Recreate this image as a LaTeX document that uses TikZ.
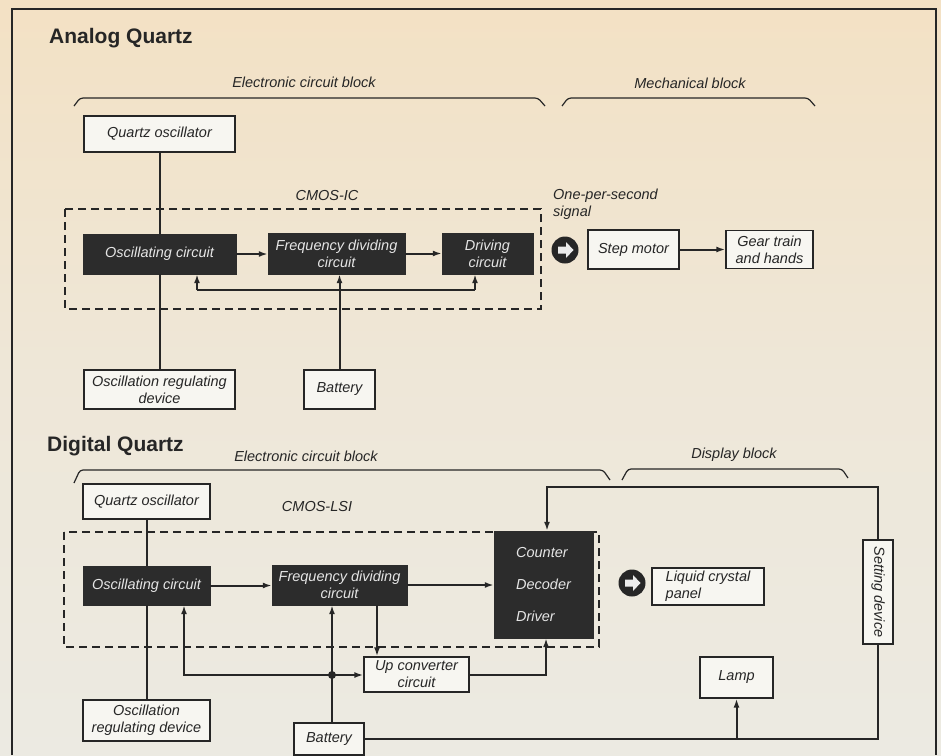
\documentclass[tikz,border=0pt]{standalone}
\usepackage{fontspec}
\setmainfont{Liberation Sans}
\usetikzlibrary{arrows.meta}

\definecolor{paper}{RGB}{238,231,216}
\definecolor{papertop}{RGB}{243,225,196}
\definecolor{paperlow}{RGB}{236,234,226}
\definecolor{ink}{RGB}{38,38,38}
\definecolor{chip}{RGB}{44,44,44}
\definecolor{boxfill}{RGB}{247,246,241}

\tikzset{
  lbl/.style={font=\fontsize{14.5}{17}\selectfont\itshape, text=ink, inner sep=0pt},
  title/.style={font=\fontsize{21}{24}\selectfont\bfseries, text=ink, inner sep=0pt, anchor=west},
  lightbox/.style={draw=ink, line width=1.3pt, fill=boxfill, text=ink, align=center,
    inner sep=1pt, font=\fontsize{14.5}{17}\selectfont\itshape},
  darkbox/.style={draw=chip, fill=chip, text=white!90!black, align=center,
    inner sep=1pt, font=\fontsize{14.5}{17}\selectfont\itshape},
  wire/.style={draw=ink, line width=2pt},
  arr/.style={wire, -{Latex[length=9pt,width=6pt]}},
  chipline/.style={draw=ink, line width=1.3pt, dash pattern=on 8pt off 5pt},
  brace/.style={draw=ink, line width=1.2pt, rounded corners=3pt},
  sigarrow/.pic={
    \fill[ink] (0,0) circle (13.5);
    \fill[white!92!black] (-7,-3.5) -- (1,-3.5) -- (1,-8) -- (8.5,0) -- (1,8) -- (1,3.5) -- (-7,3.5) -- cycle;
  },
}

\begin{document}
\begin{tikzpicture}[x=1pt, y=-1pt]
  % page and frame
  \shade[top color=papertop, bottom color=paperlow, middle color=paper] (0,0) rectangle (941,755);
  \useasboundingbox (0,0) rectangle (941,755);
  \draw[ink, line width=1.4pt] (12,755) -- (12,9) -- (936,9) -- (936,755);

  %% ---------------- analog quartz ----------------
  \node[title] (atitle) at (49,38) {Analog Quartz};

  % block braces
  \node[lbl] (aelec) at (304,82) {Electronic circuit block};
  \draw[brace] (74,106) -- (80,98) -- (538,98) -- (545,106);
  \node[lbl] (amech) at (690,83) {Mechanical block};
  \draw[brace] (562,106) -- (568,98) -- (808,98) -- (815,106);

  % CMOS-IC outline
  \draw[chipline] (65,209) rectangle (541,309);
  \node[lbl] (acmos) at (327,196) {CMOS-IC};

  \node[lightbox, minimum width=151, minimum height=36] (aqo)  at (159.5,134)   {Quartz oscillator};
  \node[darkbox,  minimum width=153, minimum height=40] (aosc) at (159.5,254)   {Oscillating circuit};
  \node[darkbox,  minimum width=137, minimum height=41] (afdc) at (336.5,253.5) {Frequency dividing\\circuit};
  \node[darkbox,  minimum width=91,  minimum height=41] (adrv) at (487.5,253.5) {Driving\\circuit};
  \node[lightbox, minimum width=151, minimum height=39] (areg) at (159.5,389.5) {Oscillation regulating\\device};
  \node[lightbox, minimum width=71,  minimum height=39] (abat) at (339.5,389.5) {Battery};

  % one-per-second output
  \node[lbl, align=left, anchor=north west] (asigtxt) at (553,189) {One-per-second\\signal};
  \pic at (565,250) {sigarrow};
  \node[lightbox, minimum width=91, minimum height=39] (astep) at (633.5,249.5) {Step motor};
  \node[lightbox, minimum width=87, minimum height=38] (agear) at (769.5,249.5) {Gear train\\and hands};

  % analog connectors
  \draw[wire] (aqo.south) -- (aosc.north);
  \draw[wire] (aosc.south) -- (areg.north);
  \draw[arr] (aosc.east) -- (afdc.west |- aosc.east);
  \draw[arr] (afdc.east) -- (adrv.west);
  \draw[arr] (abat.north) -- (abat.north |- afdc.south);
  \coordinate (abus1) at (197,290);
  \coordinate (abus2) at (475,290);
  \draw[wire] (abus1) -- (abus2);
  \draw[arr] (abus1) -- (abus1 |- aosc.south);
  \draw[arr] (abus2) -- (abus2 |- adrv.south);
  \draw[arr] (astep) -- (agear);

  %% ---------------- digital quartz ----------------
  \node[title] (dtitle) at (47,446) {Digital Quartz};

  \node[lbl] (delec) at (306,456) {Electronic circuit block};
  \draw[brace] (74,483) -- (80,470) -- (603,470) -- (610,480);
  \node[lbl] (ddisp) at (734,455) {Display block};
  \draw[brace] (622,480) -- (628,469) -- (842,469) -- (848,478);

  % CMOS-LSI outline
  \draw[chipline] (64,532) rectangle (599,647);
  \node[lbl] (dcmos) at (317,506) {CMOS-LSI};

  \node[lightbox, minimum width=127, minimum height=35]  (dqo)  at (146.5,501.5) {Quartz oscillator};
  \node[darkbox,  minimum width=127, minimum height=39]  (dosc) at (146.5,585.5) {Oscillating circuit};
  \node[darkbox,  minimum width=135, minimum height=40]  (dfdc) at (339.5,585)   {Frequency dividing\\circuit};
  \node[darkbox,  minimum width=99,  minimum height=107, align=left, font=\fontsize{14.5}{32}\selectfont\itshape]
    (dcdd) at (543.5,584.5) {Counter\\Decoder\\Driver};
  \node[lightbox, minimum width=105, minimum height=35]  (dup)  at (416.5,674.5) {Up converter\\circuit};
  \node[lightbox, minimum width=127, minimum height=41]  (dreg) at (146.5,720.5) {Oscillation\\regulating device};
  \node[lightbox, minimum width=70,  minimum height=32]  (dbat) at (329,739)     {Battery};

  \pic at (632,583) {sigarrow};
  \node[lightbox, minimum width=112, minimum height=37, align=left] (dlcd) at (708,586.5) {Liquid crystal\\panel};
  \node[lightbox, minimum width=73,  minimum height=41] (dlamp) at (736.5,677.5) {Lamp};
  % rotated: west = top end, east = bottom end
  \node[lightbox, rotate=-90, minimum width=104, minimum height=30] (dset) at (878,592) {Setting device};

  % digital connectors
  \draw[wire] (dqo.south) -- (dosc.north);
  \draw[wire] (dosc.south) -- (dreg.north);
  \draw[arr] (dosc.east) -- (dfdc.west |- dosc.east);
  \draw[arr] (dfdc.east) -- (dcdd.west |- dfdc.east);
  \coordinate (djn) at (332,675);
  \coordinate (dfb) at (184,675);
  \draw[arr] (djn |- dbat.north) -- (djn |- dfdc.south);
  \draw[arr] (djn) -- (dfb) -- (dfb |- dosc.south);
  \draw[arr] (djn) -- (dup.west |- djn);
  \fill[ink] (djn) circle (4);
  \draw[arr] (dfdc.south -| 377,0) -- (dup.north -| 377,0);
  \draw[arr] (dup.east) -| (dcdd.south -| 546,0);
  \coordinate (dsetin) at (547,487);
  \draw[arr] (dset.west) |- (dsetin) -- (dsetin |- dcdd.north);
  \coordinate (dbot) at (878,739);
  \draw[wire] (dbat.east) -- (dbot) -- (dset.east);
  \draw[arr] (dlamp.south |- dbot) -- (dlamp.south);
\end{tikzpicture}
\end{document}
